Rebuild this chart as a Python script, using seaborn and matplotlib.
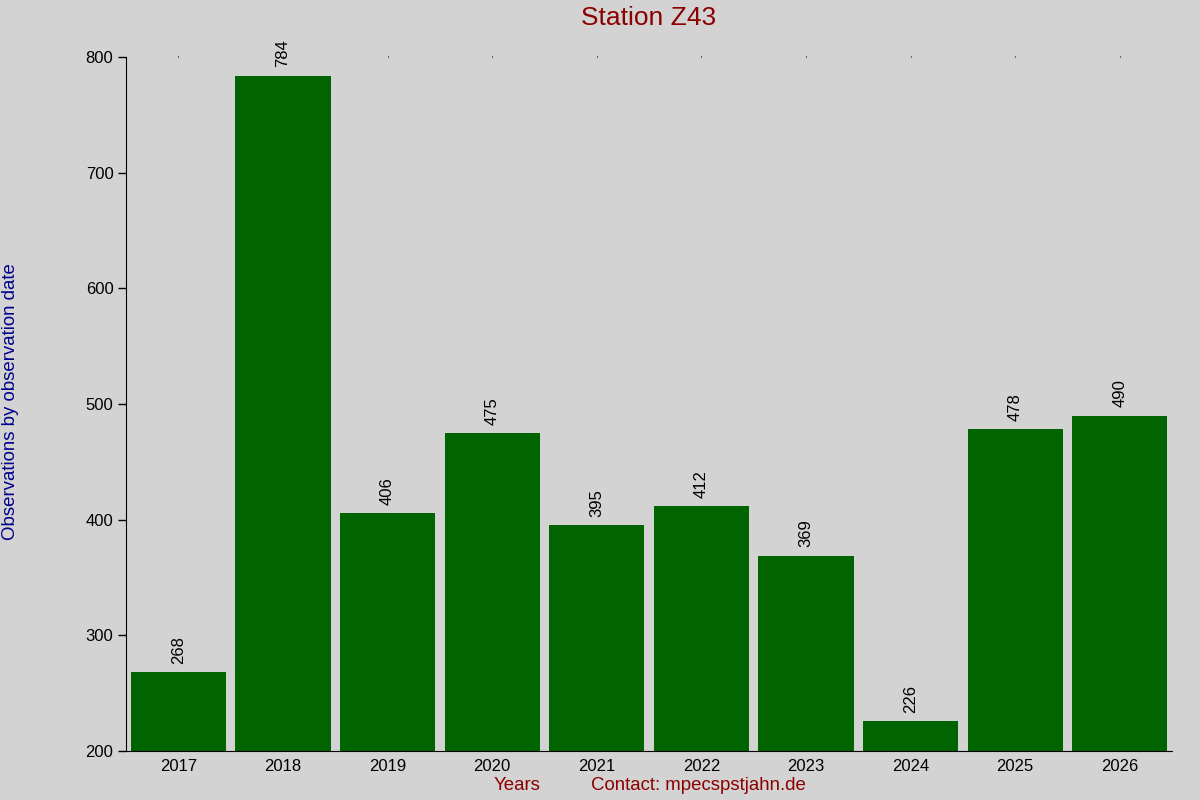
import pandas as pd
import matplotlib
matplotlib.use("Agg")
import matplotlib.pyplot as plt
import seaborn as sns

years = ["2017", "2018", "2019", "2020", "2021", "2022", "2023", "2024", "2025", "2026"]
counts = [268, 784, 406, 475, 395, 412, 369, 226, 478, 490]

sns.set_style("ticks")
plt.rcParams['font.family'] = ['Liberation Sans', 'DejaVu Sans']

df = pd.DataFrame({'year': years, 'count': counts})

fig = plt.figure(figsize=(12, 8), dpi=100, facecolor='#d3d3d3')
ax = fig.add_axes([0.105, 0.06125, 0.8717, 0.8675])
ax.set_facecolor('#d3d3d3')

sns.barplot(x='year', y='count', data=df, color='#006400', saturation=1,
            width=0.91, linewidth=0, ax=ax)

ax.set_ylim(200, 800)
ax.set_xlim(-0.5, 9.5)
ax.set_yticks([200, 300, 400, 500, 600, 700, 800])

for i, v in enumerate(counts):
    ax.text(i, v + 7, str(v), rotation=90, ha='center', va='bottom', fontsize=12, color='black')

for s in ['top', 'right']:
    ax.spines[s].set_visible(False)
ax.spines['left'].set_color('black')
ax.spines['bottom'].set_color('black')

ax.xaxis.set_ticks_position('top')
ax.tick_params(axis='x', length=1, width=0.8, labelbottom=True, labeltop=False,
               labelsize=12, pad=5, colors='black')
ax.tick_params(axis='y', length=6, width=1, labelsize=12, pad=3, colors='black')

ax.set_xlabel("")
ax.set_ylabel("")

fig.text(649 / 1200, 1 - 18 / 800, "Station Z43", ha='center', va='center',
         color='#8b0000', fontsize=19)
fig.text(11 / 1200, 1 - 402 / 800, "Observations by observation date", rotation=90,
         ha='center', va='center', color='#00008b', fontsize=13.4)
fig.text(517 / 1200, 14 / 800, "Years", ha='center', va='center', color='#8b0000', fontsize=13.4)
fig.text(698 / 1200, 14 / 800, "Contact: mpecspstjahn.de", ha='center', va='center',
         color='#8b0000', fontsize=13.4)

fig.savefig("out.png", dpi=100, facecolor=fig.get_facecolor())
